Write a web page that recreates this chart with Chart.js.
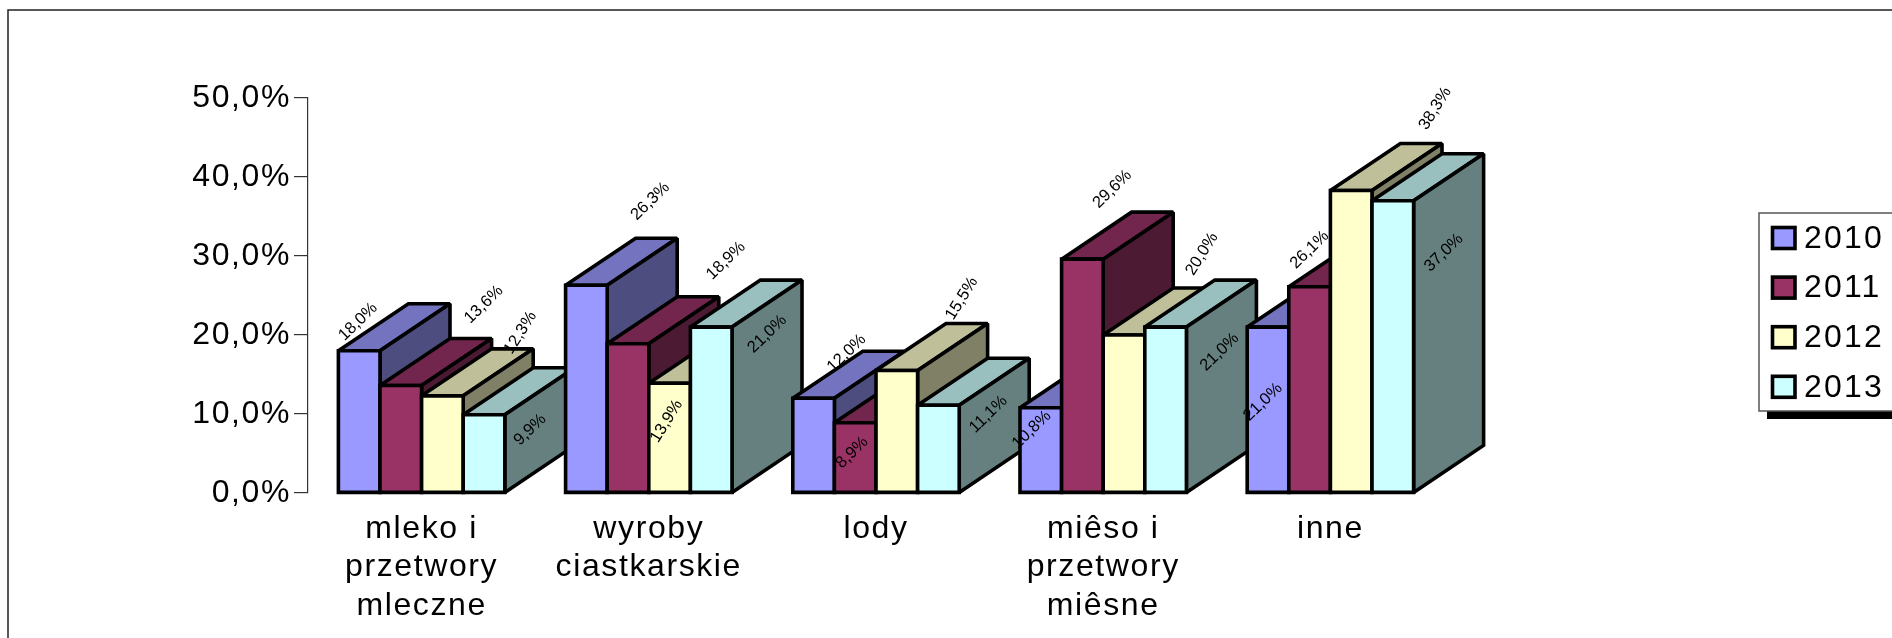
<!DOCTYPE html>
<html lang="pl">
<head>
<meta charset="utf-8">
<title>Wykres</title>
<style>
  html, body { margin: 0; padding: 0; background: #fff; overflow: hidden; }
  canvas { display: block; }
</style>
<script src="https://cdn.jsdelivr.net/npm/chart.js@4/dist/chart.umd.min.js"></script>
</head>
<body>
<canvas id="chart" width="1892" height="638"></canvas>
<script>
const categories = [['mleko i', 'przetwory', 'mleczne'], ['wyroby', 'ciastkarskie'], 'lody', ['miêso i', 'przetwory', 'miêsne'], 'inne'];
const years = ['2010', '2011', '2012', '2013'];
const values2010 = [18.0, 26.3, 12.0, 10.8, 21.0];
const values2011 = [13.6, 18.9, 8.9, 29.6, 26.1];
const values2012 = [12.3, 13.9, 15.5, 20.0, 38.3];
const values2013 = [9.9, 21.0, 11.1, 21.0, 37.0];
const yTicks = [0, 10, 20, 30, 40, 50];

const colors = [[153, 153, 255], [153, 51, 102], [255, 255, 204], [204, 255, 255]];

// value label offsets from the top centre of each bar, [dx, dy] per year and category
const labelOffsets = [
  [[-1, -29], [64, -84], [33, -45], [-9, 22], [-5, 75]],
  [[83, -81], [98, -83], [-3, 30], [30, -70], [0, -37]],
  [[78, -63], [-3, 38], [65, -72], [78, -81], [84, -82]],
  [[46, 15], [56, 7], [50, 9], [54, 25], [51, 52]]
];
// the 2012 labels stand steeper than the others
const labelAngles = [-44, -44, -58, -44];

const DEPTH_X = 70;
const DEPTH_Y = 47;
const LINE = 3.6;
const FONT = '"Liberation Sans", Arial, sans-serif';

const rgb = (c, k) => `rgb(${Math.round(c[0] * k)},${Math.round(c[1] * k)},${Math.round(c[2] * k)})`;
const percent = v => v.toFixed(1).replace('.', ',') + '%';

function face(ctx, points, fill) {
  ctx.beginPath();
  points.forEach((p, i) => i ? ctx.lineTo(p[0], p[1]) : ctx.moveTo(p[0], p[1]));
  ctx.closePath();
  ctx.fillStyle = fill;
  ctx.fill();
  ctx.stroke();
}

// One box from the bar element that the library has laid out
function drawBox(ctx, bar, c) {
  const l = bar.x - bar.width / 2;
  const r = bar.x + bar.width / 2;
  const t = bar.y;
  const b = bar.base;
  face(ctx, [[l, t], [l + DEPTH_X, t - DEPTH_Y], [r + DEPTH_X, t - DEPTH_Y], [r, t]], rgb(c, 0.75));
  face(ctx, [[r, t], [r + DEPTH_X, t - DEPTH_Y], [r + DEPTH_X, b - DEPTH_Y], [r, b]], rgb(c, 0.5));
  face(ctx, [[l, t], [r, t], [r, b], [l, b]], rgb(c, 1));
}

function drawValue(ctx, bar, text, d, i) {
  ctx.save();
  ctx.fillStyle = '#000';
  ctx.font = '16.5px ' + FONT;
  ctx.textAlign = 'center';
  ctx.textBaseline = 'middle';
  ctx.translate(bar.x + labelOffsets[d][i][0], bar.y + labelOffsets[d][i][1]);
  ctx.rotate(labelAngles[d] * Math.PI / 180);
  ctx.fillText(text, 0, 0);
  ctx.restore();
}

const boxes = {
  id: 'boxes',
  // bars overlap from left to right, so draw them by category and not by dataset.
  // each label goes right after its bar, later bars may cover it (26,1% does)
  beforeDatasetsDraw(chart) {
    const ctx = chart.ctx;
    ctx.save();
    ctx.letterSpacing = '0px';
    ctx.strokeStyle = '#000';
    ctx.lineWidth = LINE;
    ctx.lineJoin = 'miter';
    ctx.miterLimit = 2;
    categories.forEach((cat, i) => {
      chart.data.datasets.forEach((ds, d) => {
        const bar = chart.getDatasetMeta(d).data[i];
        drawBox(ctx, bar, colors[d]);
        drawValue(ctx, bar, percent(ds.data[i]), d, i);
      });
    });
    ctx.restore();
    return false;
  }
};

const frame = {
  id: 'frame',
  beforeUpdate(chart) {
    chart.ctx.letterSpacing = '1.6px';
  },
  beforeDraw(chart) {
    const ctx = chart.ctx;
    ctx.letterSpacing = '1.6px';
    ctx.save();
    ctx.strokeStyle = '#222';
    ctx.lineWidth = 1.5;
    ctx.strokeRect(8, 10, 2000, 1000); // only the top and left edges fall on the page
    ctx.restore();
  },
  afterDraw(chart) {
    // legend box runs off the right edge, as in the original
    const ctx = chart.ctx;
    ctx.save();
    ctx.fillStyle = '#000';
    ctx.fillRect(1767, 411, 200, 8);
    ctx.fillStyle = '#fff';
    ctx.strokeStyle = '#555';
    ctx.lineWidth = 1.5;
    ctx.fillRect(1759, 213, 200, 198);
    ctx.strokeRect(1759, 213, 200, 198);
    ctx.font = '32px ' + FONT;
    ctx.letterSpacing = '2.2px';
    ctx.textAlign = 'left';
    ctx.textBaseline = 'middle';
    chart.data.datasets.forEach((ds, d) => {
      const y = 238 + d * 49.6;
      ctx.fillStyle = rgb(colors[d], 1);
      ctx.strokeStyle = '#000';
      ctx.lineWidth = LINE;
      ctx.fillRect(1772.5, y - 10.5, 22.5, 21);
      ctx.strokeRect(1772.5, y - 10.5, 22.5, 21);
      ctx.fillStyle = '#000';
      ctx.fillText(ds.label, 1804, y + 1);
    });
    ctx.restore();
  }
};

const seriesValues = [values2010, values2011, values2012, values2013];

new Chart(document.getElementById('chart'), {
  type: 'bar',
  data: {
    labels: categories,
    datasets: years.map((year, d) => ({
      label: year,
      data: seriesValues[d],
      backgroundColor: rgb(colors[d], 1),
      categoryPercentage: 0.7325,
      barPercentage: 1
    }))
  },
  options: {
    responsive: false,
    animation: false,
    devicePixelRatio: 1,
    events: [],
    layout: { padding: { left: 108, right: 448, top: 98, bottom: 0 } },
    plugins: { legend: { display: false }, tooltip: { enabled: false }, title: { display: false } },
    scales: {
      x: {
        grid: { display: false },
        border: { display: false },
        ticks: {
          color: '#000',
          autoSkip: false,
          maxRotation: 0,
          minRotation: 0,
          padding: 9,
          font: { family: FONT, size: 32, lineHeight: 1.2 }
        },
        afterFit(scale) { scale.height = 145; }
      },
      y: {
        min: 0,
        max: 50,
        afterBuildTicks(scale) { scale.ticks = yTicks.map(v => ({ value: v })); },
        grid: { drawOnChartArea: false, drawTicks: true, tickLength: 14, tickColor: '#333', lineWidth: 1.2 },
        border: { display: true, color: '#333', width: 1.2 },
        ticks: {
          color: '#000',
          padding: 3,
          callback: v => percent(v),
          font: { family: FONT, size: 32 }
        },
        afterFit(scale) { scale.width = 200; }
      }
    }
  },
  plugins: [frame, boxes]
});
</script>
</body>
</html>
